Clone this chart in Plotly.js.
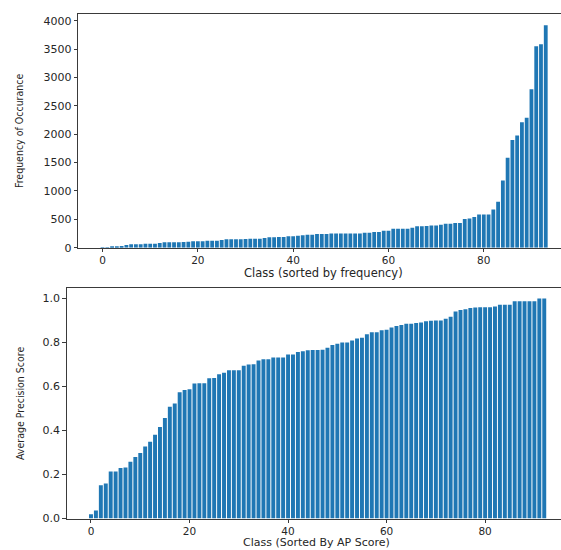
<!DOCTYPE html>
<html>
<head>
<meta charset="utf-8">
<script src="https://cdn.plot.ly/plotly-3.0.1.min.js"></script>
<style>html,body{margin:0;padding:0;background:#fff;}#chart{width:561px;height:550px;}</style>
</head>
<body>
<div id="chart"></div>
<script>
// Frequency of occurrence per class (sorted ascending)
var freqValues = [
  1, 3, 12, 23, 30, 47, 59, 59, 59, 70,
  70, 70, 82, 94, 94, 94, 94, 100, 106, 112,
  112, 112, 123, 123, 123, 135, 147, 147, 147, 147,
  153, 159, 159, 159, 170, 182, 182, 188, 188, 200,
  200, 212, 220, 229, 229, 241, 241, 241, 252, 252,
  252, 252, 252, 252, 252, 264, 264, 276, 276, 299,
  299, 334, 334, 334, 334, 350, 376, 376, 381, 393,
  393, 405, 422, 422, 434, 434, 505, 516, 540, 587,
  587, 587, 675, 810, 1185, 1585, 1900, 1978, 2212, 2290,
  2793, 3550, 3586, 3920
];
// Average precision score per class (sorted ascending)
var apValues = [
  0.019, 0.036, 0.151, 0.159, 0.213, 0.213, 0.229, 0.232, 0.258, 0.279,
  0.298, 0.327, 0.349, 0.381, 0.416, 0.457, 0.508, 0.523, 0.574, 0.584,
  0.587, 0.613, 0.614, 0.614, 0.637, 0.638, 0.655, 0.662, 0.673, 0.673,
  0.673, 0.694, 0.700, 0.701, 0.718, 0.724, 0.724, 0.731, 0.731, 0.731,
  0.745, 0.745, 0.757, 0.760, 0.764, 0.766, 0.766, 0.767, 0.776, 0.788,
  0.794, 0.800, 0.800, 0.809, 0.818, 0.821, 0.837, 0.846, 0.846, 0.855,
  0.857, 0.868, 0.875, 0.879, 0.885, 0.885, 0.888, 0.891, 0.896, 0.899,
  0.900, 0.900, 0.908, 0.917, 0.941, 0.947, 0.951, 0.956, 0.959, 0.960,
  0.960, 0.960, 0.963, 0.971, 0.971, 0.971, 0.987, 0.987, 0.987, 0.987,
  0.987, 0.999, 0.999
];
var freqClasses = freqValues.map(function(_, i){ return i; });
var apClasses = apValues.map(function(_, i){ return i; });
var xTicks = [0, 20, 40, 60, 80];
var freqTicks = [0, 500, 1000, 1500, 2000, 2500, 3000, 3500, 4000];
var apTicks = [0.0, 0.2, 0.4, 0.6, 0.8, 1.0];
var titles = {
  freqX: 'Class (sorted by frequency)',
  freqY: 'Frequency of Occurance',
  apX: 'Class (Sorted By AP Score)',
  apY: 'Average Precision Score'
};

var barColor = '#1f77b4';
var tickFont = {family: 'DejaVu Sans, sans-serif', size: 11, color: '#262626'};
var xTickFont = {family: 'DejaVu Sans, sans-serif', size: 10.5, color: '#262626'};
var titleFontX = {family: 'DejaVu Sans, sans-serif', size: 11.5, color: '#262626'};
var titleFontX2 = {family: 'DejaVu Sans, sans-serif', size: 11, color: '#262626'};
var titleFontY = {family: 'Liberation Sans Narrow, DejaVu Sans Condensed, sans-serif', size: 10.5, color: '#262626'};

var traces = [
  {type: 'bar', x: freqClasses, y: freqValues, xaxis: 'x', yaxis: 'y',
   marker: {color: barColor, line: {width: 0}}, width: 0.8, hoverinfo: 'x+y'},
  {type: 'bar', x: apClasses, y: apValues, xaxis: 'x2', yaxis: 'y2',
   marker: {color: barColor, line: {width: 0}}, width: 0.8, hoverinfo: 'x+y'}
];

function axisCommon() {
  return {
    showgrid: false, zeroline: false, showline: true, linecolor: '#3a3a3a', linewidth: 1,
    ticks: 'outside', ticklen: 3.5, tickwidth: 1, tickcolor: '#3a3a3a',
    tickfont: tickFont, fixedrange: true
  };
}

var layout = {
  width: 561, height: 550,
  margin: {l: 0, r: 0, t: 0, b: 0},
  paper_bgcolor: '#ffffff', plot_bgcolor: '#ffffff',
  showlegend: false,
  xaxis: Object.assign(axisCommon(), {
    domain: [78.3/561, 1], anchor: 'y', range: [-5.09, 96.2],
    tickvals: xTicks, mirror: true, ticklen: 3, tickfont: xTickFont
  }),
  yaxis: Object.assign(axisCommon(), {
    domain: [1 - 247.7/550, 1 - 14.3/550], anchor: 'x', range: [0, 4113],
    tickvals: freqTicks
  }),
  xaxis2: Object.assign(axisCommon(), {
    domain: [66.7/561, 1], anchor: 'y2', range: [-4.93, 95.4],
    tickvals: xTicks, mirror: true, ticklen: 3, tickfont: xTickFont
  }),
  yaxis2: Object.assign(axisCommon(), {
    domain: [1 - 518.5/550, 1 - 287.7/550], anchor: 'x2', range: [0, 1.0486],
    tickvals: apTicks, tickformat: '.1f'
  }),
  bargap: 0.2,
  annotations: [
    {text: titles.freqX, xref: 'paper', yref: 'paper', x: 323.5/561, y: 1 - 272.5/550,
     xanchor: 'center', yanchor: 'middle', showarrow: false, font: titleFontX},
    {text: titles.apX, xref: 'paper', yref: 'paper', x: 316/561, y: 0,
     xanchor: 'center', yanchor: 'bottom', showarrow: false, font: titleFontX2, borderpad: 0},
    {text: titles.freqY, xref: 'paper', yref: 'paper', x: 19/561, y: 1 - 131/550,
     xanchor: 'center', yanchor: 'middle', textangle: -90, showarrow: false, font: titleFontY},
    {text: titles.apY, xref: 'paper', yref: 'paper', x: 20/561, y: 1 - 404/550,
     xanchor: 'center', yanchor: 'middle', textangle: -90, showarrow: false, font: titleFontY}
  ]
};

Plotly.newPlot('chart', traces, layout, {displayModeBar: false});
</script>
</body>
</html>
